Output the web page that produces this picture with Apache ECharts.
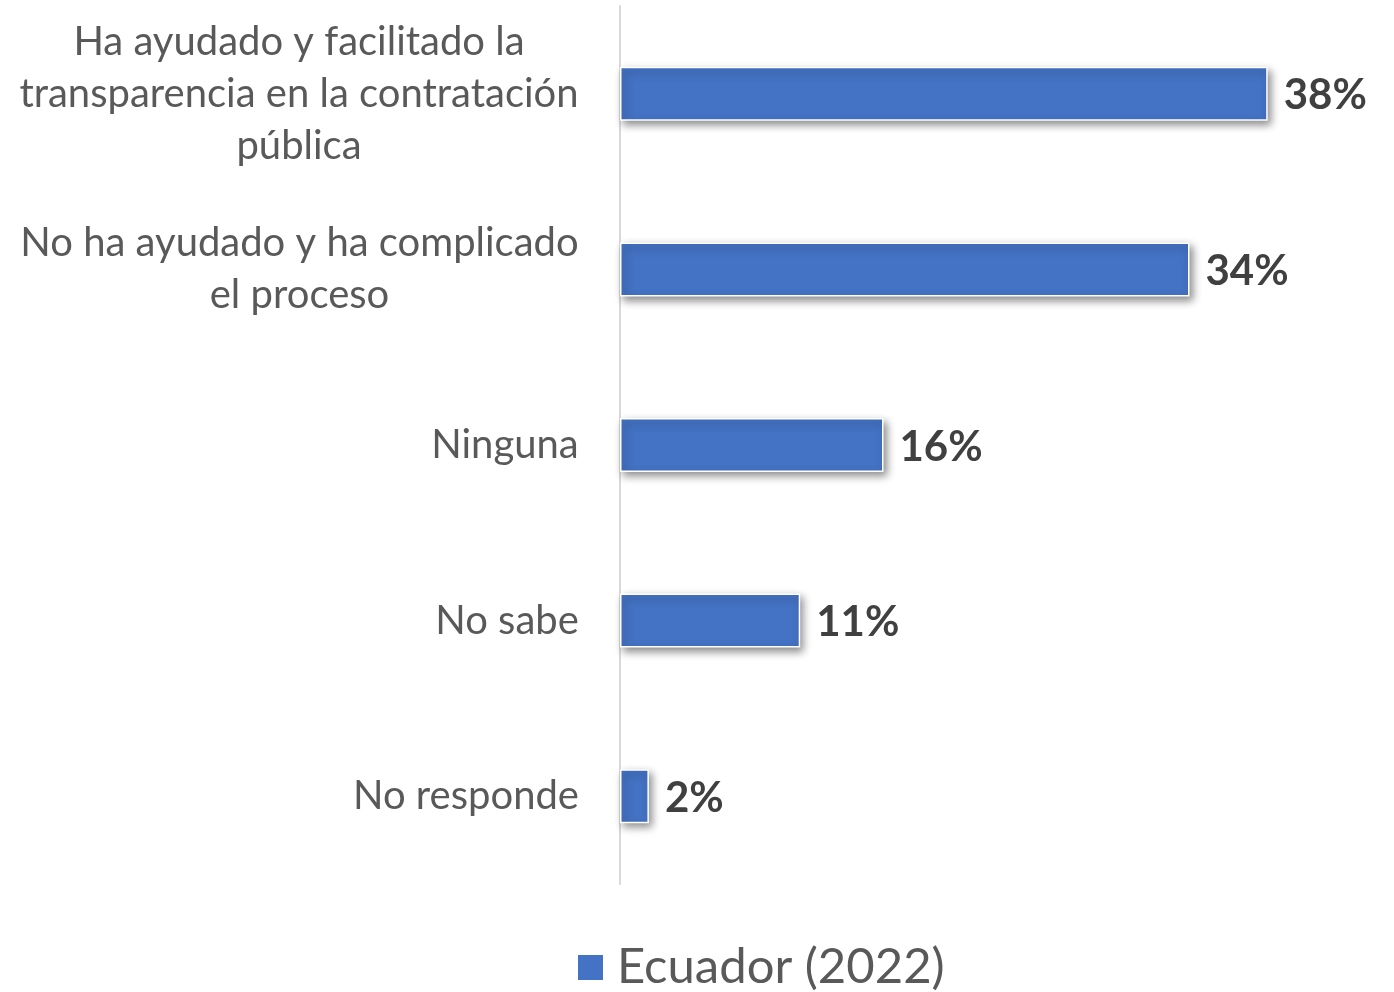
<!DOCTYPE html>
<html>
<head>
<meta charset="utf-8">
<script src="https://cdn.jsdelivr.net/npm/echarts@6/dist/echarts.min.js"></script>
<style>
html,body{margin:0;padding:0;background:#fff;}
#chart{width:1394px;height:992px;}
</style>
</head>
<body>
<div id="chart"></div>
<script>
const categories = [
  "Ha ayudado y facilitado la\ntransparencia en la contratación\npública",
  "No ha ayudado y ha complicado\nel proceso",
  "Ninguna",
  "No sabe",
  "No responde"
];
const seriesName = "Ecuador (2022)";
const values = [38.1, 33.5, 15.5, 10.6, 1.7];

const FONT = "Lato";
const CAT_SIZE = 40;

// measure each label's widest line so multi-line labels are centred within a right-aligned block
const ctx = document.createElement('canvas').getContext('2d');
ctx.font = CAT_SIZE + 'px ' + FONT;
const rich = {};
categories.forEach(function (c, i) {
  const w = Math.max.apply(null, c.split('\n').map(function (l) { return ctx.measureText(l).width; }));
  rich['c' + i] = { width: Math.ceil(w) + 2, align: 'center', fontSize: CAT_SIZE, lineHeight: 52, color: '#595959', fontFamily: FONT };
});

const chart = echarts.init(document.getElementById('chart'));
chart.setOption({
  animation: false,
  backgroundColor: '#ffffff',
  grid: { left: 620, right: 94, top: 6, bottom: 108, containLabel: false },
  xAxis: {
    type: 'value', min: 0, max: 40,
    show: false,
    splitLine: { show: false }
  },
  yAxis: {
    type: 'category',
    data: categories,
    inverse: true,
    axisLine: { show: true, lineStyle: { color: '#d9d9d9', width: 2 } },
    axisTick: { show: false },
    axisLabel: {
      margin: 40,
      align: 'right',
      formatter: function (v) {
        const i = categories.indexOf(v);
        return v.split('\n').map(function (l) { return '{c' + i + '|' + l + '}'; }).join('\n');
      },
      rich: rich
    }
  },
  legend: {
    left: 576, top: 943, padding: 0,
    itemWidth: 27, itemHeight: 27, itemGap: 10,
    icon: 'rect',
    textStyle: { fontSize: 49, color: '#595959', fontFamily: FONT, padding: [0, 0, 0, 8] },
    data: [seriesName]
  },
  series: [{
    name: seriesName,
    type: 'bar',
    data: values,
    barWidth: 54,
    itemStyle: {
      color: '#4472c4',
      borderColor: '#ffffff',
      borderWidth: 1.5,
      shadowColor: 'rgba(0,0,0,0.45)',
      shadowBlur: 8,
      shadowOffsetX: 3,
      shadowOffsetY: 4
    },
    label: {
      show: true,
      position: 'right',
      distance: 16,
      offset: [0, 2],
      formatter: function (p) { return Math.round(p.value) + '%'; },
      fontSize: 42,
      fontWeight: 'bold',
      color: '#404040',
      fontFamily: FONT
    }
  }]
});
</script>
</body>
</html>
